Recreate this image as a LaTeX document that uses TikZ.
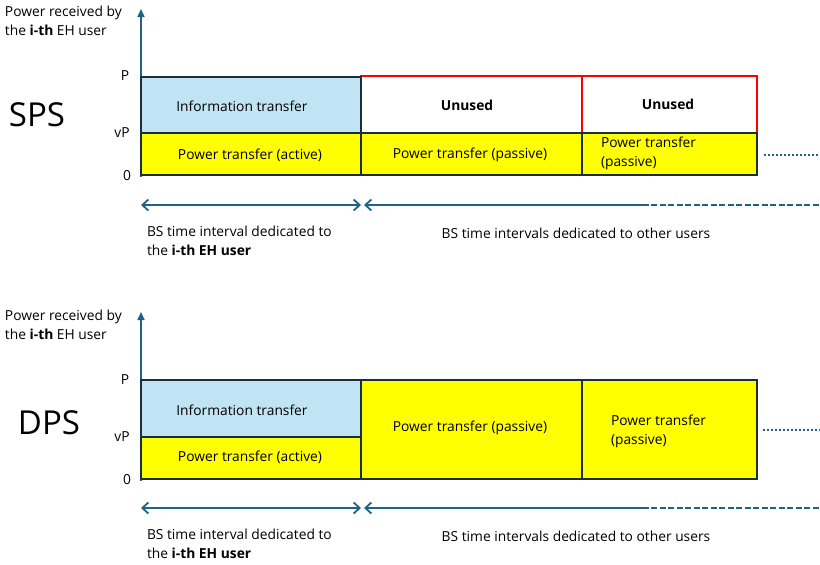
\documentclass[tikz,border=0pt]{standalone}
\usepackage{fontspec}
\setmainfont{Open Sans}
\usetikzlibrary{arrows.meta}
\definecolor{infoblue}{HTML}{C1E4F5}
\definecolor{boxline}{HTML}{1A2E3B}
\definecolor{axcol}{HTML}{1F6285}
\definecolor{unred}{HTML}{FF0000}
\definecolor{pyellow}{HTML}{FFFF00}
\tikzset{barbtip/.tip={Straight Barb[length=6pt,width=11pt,line width=1.8pt]}}
\begin{document}
\begin{tikzpicture}[x=1pt,y=-1pt,
  every node/.style={font=\fontsize{13.8}{19}\selectfont, inner sep=0pt, outer sep=0pt},
  cell/.style={draw=boxline, line width=1.8pt, anchor=north west, minimum width=#1},
  infocell/.style={cell=#1, fill=infoblue},
  powcell/.style={cell=#1, fill=pyellow},
  unusedcell/.style={draw=unred, line width=1.5pt, fill=white, anchor=north west, minimum width=#1},
  axisline/.style={draw=axcol, line width=1.6pt, -{Triangle[length=8pt,width=7pt]}},
  spanarrow/.style={draw=axcol, line width=1.9pt},
  bigtxt/.style={font=\fontsize{33}{38}\selectfont},
  lvl/.style={anchor=center}
]
\useasboundingbox (0,0) rectangle (820,565);

% ================= SPS =================
\coordinate (ax1b) at (141,177);
\coordinate (ax1t) at (141,9);
\draw[axisline] (ax1b) -- (ax1t);
\node[anchor=north west, align=left] (ylab1) at (5,6) {Power received by\\the \textbf{i-th} EH user};
\node[bigtxt] (sps) at (37,115) {SPS};

\node[unusedcell=221pt, minimum height=57pt] (un1) at (361,76) {};
\node[unusedcell=175pt, minimum height=57pt] (un2) at (582,76) {};
\node[infocell=220pt, minimum height=56pt] (info1) at (141,77) {};
\node[powcell=220pt, minimum height=42pt] (pa1) at (141,133) {};
\node[powcell=221pt, minimum height=42pt] (pp1) at (361,133) {};
\node[powcell=175pt, minimum height=42pt] (pp2) at (582,133) {};

\node (t-info1) at (242,106) {Information transfer};
\node (t-pa1) at (250,155) {Power transfer (active)};
\node (t-un1) at (467,105) {\textbf{Unused}};
\node (t-un2) at (668,104) {\textbf{Unused}};
\node (t-pp1) at (470,155) {Power transfer (passive)};
\node[anchor=west, align=left] (t-pp2) at (601,153) {Power transfer\\(passive)};

\node[lvl] (lP1) at (125,76) {P};
\node[lvl] (lvP1) at (122,133) {vP};
\node[lvl] (l01) at (127,176) {0};

\coordinate (dot1a) at (764,155);
\coordinate (dot1b) at (820,155);
\draw[axcol, line width=1.9pt, dash pattern=on 2pt off 2pt] (dot1a) -- (dot1b);

\coordinate (s1a) at (141,205);
\coordinate (s1b) at (361,205);
\coordinate (s1c) at (364,205);
\coordinate (s1d) at (649,205);
\coordinate (s1e) at (820,205);
\draw[spanarrow, {barbtip}-{barbtip}] (s1a) -- (s1b);
\draw[spanarrow, {barbtip}-] (s1c) -- (s1d);
\draw[axcol, line width=1.7pt, dash pattern=on 6pt off 2.5pt] (s1d) ++(2,0) -- (s1e);

\node[anchor=north west, align=left] (b1) at (147,226) {BS time interval dedicated to\\the \textbf{i-th EH user}};
\node (b2) at (576,233) {BS time intervals dedicated to other users};

% ================= DPS =================
\coordinate (ax2b) at (141,481);
\coordinate (ax2t) at (141,312);
\draw[axisline] (ax2b) -- (ax2t);
\node[anchor=north west, align=left] (ylab2) at (5,310) {Power received by\\the \textbf{i-th} EH user};
\node[bigtxt] (dps) at (49,423) {DPS};

\node[infocell=220pt, minimum height=57pt] (info2) at (141,380) {};
\node[powcell=220pt, minimum height=42pt] (pa2) at (141,437) {};
\node[powcell=221pt, minimum height=99pt] (pp3) at (361,380) {};
\node[powcell=175pt, minimum height=99pt] (pp4) at (582,380) {};

\node (t-info2) at (242,410) {Information transfer};
\node (t-pa2) at (250,457) {Power transfer (active)};
\node (t-pp3) at (470,428) {Power transfer (passive)};
\node[anchor=west, align=left] (t-pp4) at (611,431) {Power transfer\\(passive)};

\node[lvl] (lP2) at (125,380) {P};
\node[lvl] (lvP2) at (122,437) {vP};
\node[lvl] (l02) at (127,480) {0};

\coordinate (dot2a) at (763,430);
\coordinate (dot2b) at (820,430);
\draw[axcol, line width=1.9pt, dash pattern=on 2pt off 2pt] (dot2a) -- (dot2b);

\coordinate (s2a) at (141,508);
\coordinate (s2b) at (361,508);
\coordinate (s2c) at (364,508);
\coordinate (s2d) at (649,508);
\coordinate (s2e) at (820,508);
\draw[spanarrow, {barbtip}-{barbtip}] (s2a) -- (s2b);
\draw[spanarrow, {barbtip}-] (s2c) -- (s2d);
\draw[axcol, line width=1.7pt, dash pattern=on 6pt off 2.5pt] (s2d) ++(2,0) -- (s2e);

\node[anchor=north west, align=left] (b3) at (147,529) {BS time interval dedicated to\\the \textbf{i-th EH user}};
\node (b4) at (576,536) {BS time intervals dedicated to other users};
\end{tikzpicture}
\end{document}
